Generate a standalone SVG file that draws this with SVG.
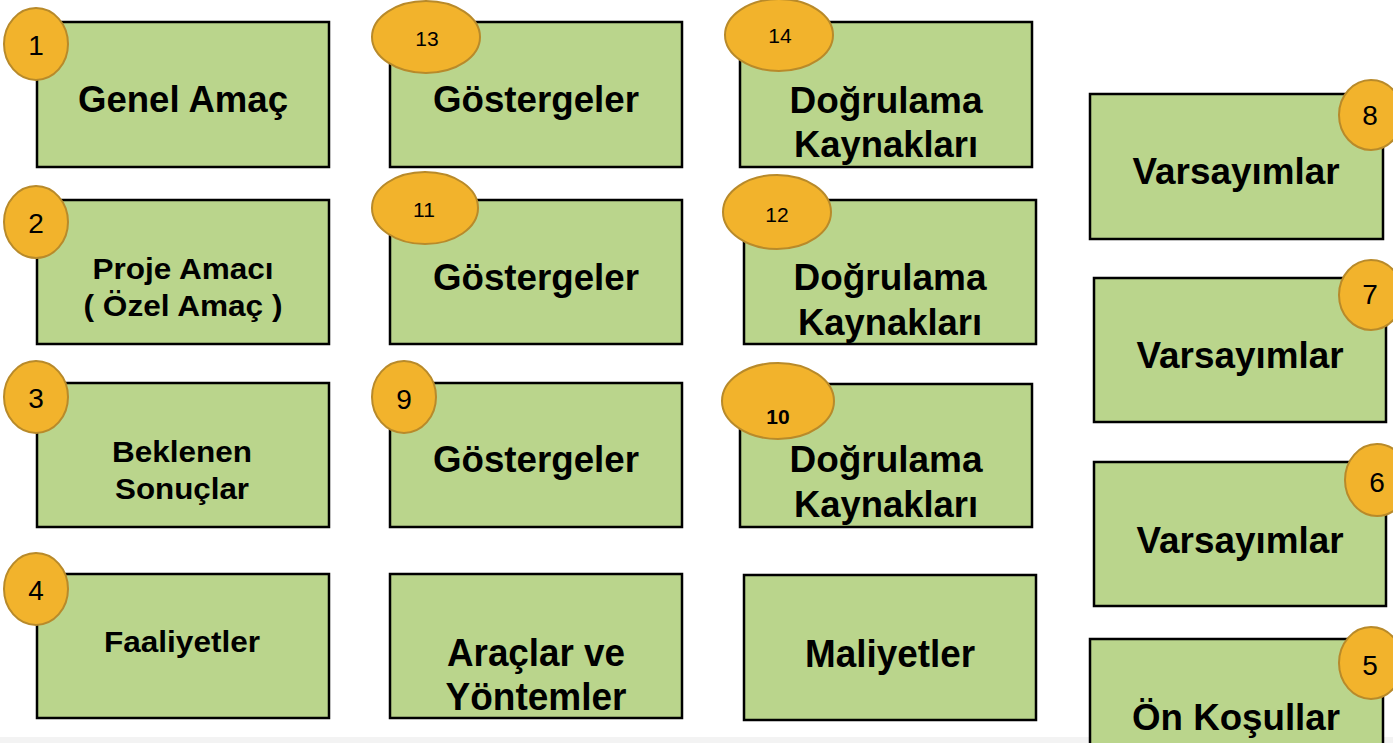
<svg xmlns="http://www.w3.org/2000/svg" width="1393" height="743" viewBox="0 0 1393 743">
<style>
.box{fill:#bad58c;stroke:#000;stroke-width:2.5}
.badge{fill:#f2b32c;stroke:#b88a2a;stroke-width:2}
.lbl{font-family:"Liberation Sans",Arial,sans-serif;font-weight:bold;fill:#000;text-anchor:middle}
.big{font-size:36px}
.mid{font-size:30px}
.tall{font-size:38px}
.num{font-family:"Liberation Sans",Arial,sans-serif;fill:#000;text-anchor:middle;font-size:28px}
.snum{font-family:"Liberation Sans",Arial,sans-serif;fill:#000;text-anchor:middle;font-size:21px}
</style>
<rect x="0" y="0" width="1393" height="743" fill="#fff"/>
<rect x="0" y="737" width="1393" height="6" fill="#f3f3f3"/>
<g id="connectors"></g>

<g id="n1">
<rect class="box" x="37" y="22" width="292" height="145"/>
<text class="lbl big" x="183" y="112" textLength="210" lengthAdjust="spacingAndGlyphs">Genel Amaç</text>
<ellipse class="badge" cx="36" cy="44" rx="32" ry="36"/>
<text class="num" x="36" y="55">1</text>
</g>
<g id="n2">
<rect class="box" x="37" y="200" width="292" height="144"/>
<text class="lbl mid" x="183" y="279" textLength="181" lengthAdjust="spacingAndGlyphs">Proje Amacı</text>
<text class="lbl mid" x="183" y="316" textLength="199" lengthAdjust="spacingAndGlyphs">( Özel Amaç )</text>
<ellipse class="badge" cx="36" cy="222" rx="32" ry="36"/>
<text class="num" x="36" y="233">2</text>
</g>
<g id="n3">
<rect class="box" x="37" y="383" width="292" height="144"/>
<text class="lbl mid" x="182" y="462" textLength="140" lengthAdjust="spacingAndGlyphs">Beklenen</text>
<text class="lbl mid" x="182" y="499" textLength="134" lengthAdjust="spacingAndGlyphs">Sonuçlar</text>
<ellipse class="badge" cx="36" cy="397" rx="32" ry="36"/>
<text class="num" x="36" y="408">3</text>
</g>
<g id="n4">
<rect class="box" x="37" y="574" width="292" height="144"/>
<text class="lbl mid" x="182" y="652" textLength="156" lengthAdjust="spacingAndGlyphs">Faaliyetler</text>
<ellipse class="badge" cx="36" cy="589" rx="32" ry="36"/>
<text class="num" x="36" y="600">4</text>
</g>

<g id="n13">
<rect class="box" x="390" y="22" width="292" height="145"/>
<text class="lbl big" x="536" y="112" textLength="206" lengthAdjust="spacingAndGlyphs">Göstergeler</text>
<ellipse class="badge" cx="426" cy="37" rx="54" ry="36"/>
<text class="snum" x="427" y="46">13</text>
</g>
<g id="n11">
<rect class="box" x="390" y="200" width="292" height="144"/>
<text class="lbl big" x="536" y="290" textLength="206" lengthAdjust="spacingAndGlyphs">Göstergeler</text>
<ellipse class="badge" cx="425" cy="208" rx="53" ry="36"/>
<text class="snum" x="424" y="217">11</text>
</g>
<g id="n9">
<rect class="box" x="390" y="383" width="292" height="144"/>
<text class="lbl big" x="536" y="472" textLength="206" lengthAdjust="spacingAndGlyphs">Göstergeler</text>
<ellipse class="badge" cx="404" cy="397" rx="32" ry="36"/>
<text class="num" x="404" y="409">9</text>
</g>
<g id="n-araclar">
<rect class="box" x="390" y="574" width="292" height="144"/>
<text class="lbl tall" x="536" y="666" textLength="178" lengthAdjust="spacingAndGlyphs">Araçlar ve</text>
<text class="lbl tall" x="536" y="710" textLength="181" lengthAdjust="spacingAndGlyphs">Yöntemler</text>
</g>

<g id="n14">
<rect class="box" x="740" y="22" width="292" height="145"/>
<text class="lbl big" x="886" y="113" textLength="193" lengthAdjust="spacingAndGlyphs">Doğrulama</text>
<text class="lbl big" x="886" y="157" textLength="184" lengthAdjust="spacingAndGlyphs">Kaynakları</text>
<ellipse class="badge" cx="779" cy="35" rx="54" ry="36"/>
<text class="snum" x="780" y="43">14</text>
</g>
<g id="n12">
<rect class="box" x="744" y="200" width="292" height="144"/>
<text class="lbl big" x="890" y="290" textLength="193" lengthAdjust="spacingAndGlyphs">Doğrulama</text>
<text class="lbl big" x="890" y="335" textLength="184" lengthAdjust="spacingAndGlyphs">Kaynakları</text>
<ellipse class="badge" cx="777" cy="212" rx="54" ry="37"/>
<text class="snum" x="777" y="222">12</text>
</g>
<g id="n10">
<rect class="box" x="740" y="384" width="292" height="143"/>
<text class="lbl big" x="886" y="472" textLength="193" lengthAdjust="spacingAndGlyphs">Doğrulama</text>
<text class="lbl big" x="886" y="517" textLength="184" lengthAdjust="spacingAndGlyphs">Kaynakları</text>
<ellipse class="badge" cx="778" cy="401" rx="56" ry="38"/>
<text class="snum" x="778" y="424" font-weight="bold">10</text>
</g>
<g id="n-maliyet">
<rect class="box" x="744" y="575" width="292" height="145"/>
<text class="lbl tall" x="890" y="667" textLength="170" lengthAdjust="spacingAndGlyphs">Maliyetler</text>
</g>

<g id="n8">
<rect class="box" x="1090" y="94" width="293" height="145"/>
<text class="lbl big" x="1236" y="184" textLength="207" lengthAdjust="spacingAndGlyphs">Varsayımlar</text>
<ellipse class="badge" cx="1371" cy="115" rx="32" ry="35"/>
<text class="num" x="1370" y="125">8</text>
</g>
<g id="n7">
<rect class="box" x="1094" y="278" width="292" height="144"/>
<text class="lbl big" x="1240" y="368" textLength="207" lengthAdjust="spacingAndGlyphs">Varsayımlar</text>
<ellipse class="badge" cx="1371" cy="295" rx="32" ry="35"/>
<text class="num" x="1370" y="304">7</text>
</g>
<g id="n6">
<rect class="box" x="1094" y="462" width="292" height="144"/>
<text class="lbl big" x="1240" y="553" textLength="207" lengthAdjust="spacingAndGlyphs">Varsayımlar</text>
<ellipse class="badge" cx="1377" cy="480" rx="32" ry="36"/>
<text class="num" x="1377" y="492">6</text>
</g>
<g id="n5">
<rect class="box" x="1090" y="639" width="293" height="110"/>
<text class="lbl big" x="1236" y="730" textLength="208" lengthAdjust="spacingAndGlyphs">Ön Koşullar</text>
<ellipse class="badge" cx="1371" cy="663" rx="32" ry="36"/>
<text class="num" x="1370" y="675">5</text>
</g>
</svg>
